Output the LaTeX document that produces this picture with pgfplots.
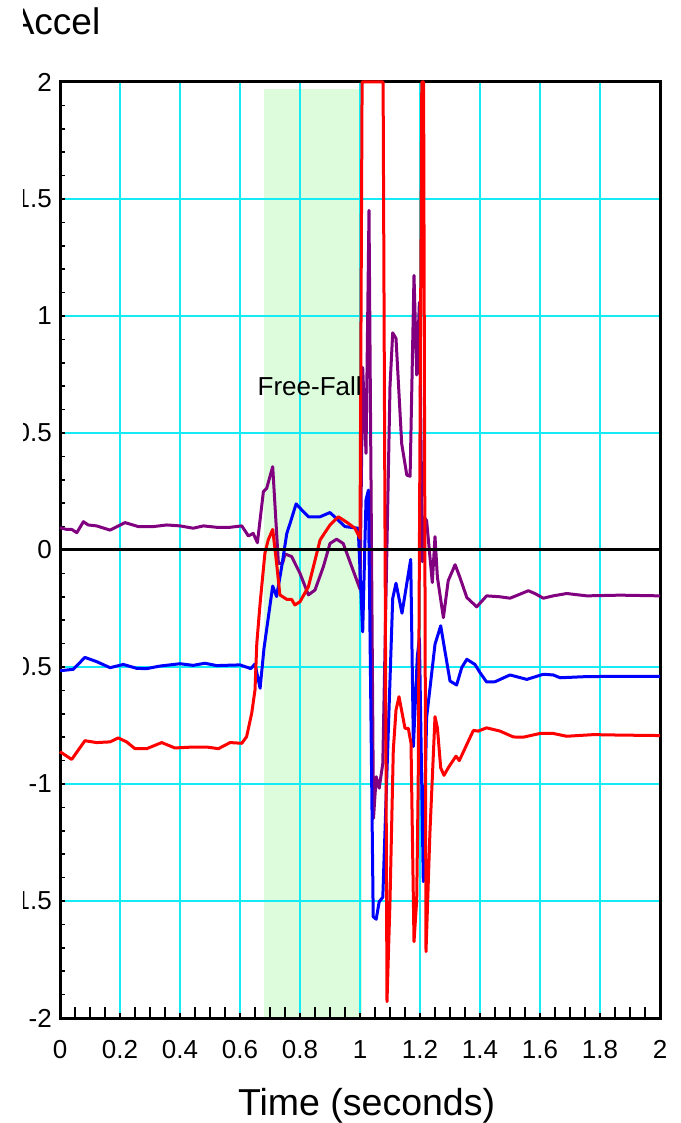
\documentclass[border=0pt]{standalone}
\usepackage{fontspec}
\setmainfont{Liberation Sans}
\usepackage{pgfplots}
\pgfplotsset{compat=1.18}
\definecolor{gridcyan}{RGB}{20,235,245}
\definecolor{ffgreen}{RGB}{220,252,220}
\definecolor{cpurple}{RGB}{128,0,128}
\begin{document}
\begin{tikzpicture}
\begin{axis}[
  set layers=standard,
  at={(0pt,0pt)}, anchor=south west,
  scale only axis, width=600pt, height=936pt,
  xmin=0, xmax=2, ymin=-2, ymax=2,
  clip=false,
  xtick={0,0.2,0.4,0.6,0.8,1,1.2,1.4,1.6,1.8,2},
  xticklabels={0,0.2,0.4,0.6,0.8,1,1.2,1.4,1.6,1.8,2},
  ytick={-2,-1.5,-1,-0.5,0,0.5,1,1.5,2},
  yticklabels={-2,-1.5,-1,-0.5,0,0.5,1,1.5,2},
  minor y tick num=4,
  extra x ticks={0.05,0.1,0.15,0.25,0.3,0.35,0.45,0.5,0.55,0.65,0.7,0.75,0.85,0.9,0.95,1.05,1.1,1.15,1.25,1.3,1.35,1.45,1.5,1.55,1.65,1.7,1.75,1.85,1.9,1.95},
  extra x tick labels={},
  extra x tick style={grid=none, major tick length=11pt, xtick pos=bottom},
  xtick pos=bottom, ytick pos=left,
  tick align=inside,
  major tick length=4.5pt, minor tick length=4.5pt,
  tick style={black, line width=1.5pt},
  grid=major,
  major grid style={gridcyan, line width=2pt},
  axis line style={black, line width=3pt},
  every tick label/.append style={font=\fontsize{26}{26}\selectfont},
  xticklabel style={anchor=north, inner sep=0pt, yshift=-22pt},
  yticklabel style={anchor=east, inner sep=0pt, xshift=-8pt},
  every axis plot/.append style={line join=round},
]
% free-fall band
\addplot[fill=ffgreen, draw=none, on layer=axis background] coordinates {(0.68,-2) (0.68,1.97) (1.006,1.97) (1.006,-2)} -- cycle;

% purple
\addplot[cpurple, line width=3pt] coordinates {
(0,0.095)(0.022,0.088)(0.039,0.088)(0.056,0.074)(0.078,0.121)(0.094,0.107)(0.122,0.103)(0.167,0.085)(0.217,0.117)(0.261,0.1)(0.311,0.1)(0.356,0.107)(0.4,0.103)(0.444,0.093)(0.478,0.103)(0.522,0.097)(0.567,0.097)(0.606,0.103)
(0.628,0.06)(0.644,0.071)(0.658,0.031)(0.678,0.25)(0.689,0.264)(0.709,0.356)(0.728,-0.057)(0.742,-0.057)(0.75,-0.017)(0.772,-0.028)(0.8,-0.1)(0.828,-0.192)(0.85,-0.171)(0.878,-0.071)(0.9,0.028)(0.922,0.046)(0.944,0.028)(1.0,-0.167)
(1.009,0.78)(1.02,0.413)(1.03,1.451)(1.045,-1.147)(1.054,-0.969)(1.064,-1.018)(1.076,-0.912)(1.1,0.70)(1.109,0.928)(1.12,0.904)(1.139,0.454)(1.156,0.32)(1.167,0.315)(1.18,1.173)(1.189,0.748)(1.198,1.059)
(1.208,-0.05)(1.214,0.14)(1.222,0.126)(1.241,-0.139)(1.25,0.057)(1.258,-0.117)(1.278,-0.289)(1.294,-0.131)(1.317,-0.063)(1.333,-0.117)(1.356,-0.203)(1.389,-0.243)(1.422,-0.196)(1.467,-0.2)(1.5,-0.206)(1.533,-0.189)(1.561,-0.174)(1.583,-0.186)(1.611,-0.206)(1.644,-0.196)(1.689,-0.186)(1.756,-0.196)(1.867,-0.193)(2.0,-0.196)
};

% blue
\addplot[blue, line width=3pt] coordinates {
(0,-0.516)(0.044,-0.51)(0.083,-0.459)(0.122,-0.477)(0.167,-0.503)(0.211,-0.489)(0.256,-0.506)(0.289,-0.507)(0.333,-0.496)(0.4,-0.486)(0.444,-0.493)(0.483,-0.484)(0.522,-0.494)(0.6,-0.491)(0.636,-0.507)(0.65,-0.487)(0.667,-0.591)(0.68,-0.42)(0.709,-0.154)(0.722,-0.199)(0.739,-0.071)(0.756,0.071)(0.767,0.114)(0.787,0.197)(0.806,0.171)(0.828,0.142)(0.867,0.142)(0.9,0.16)(0.95,0.1)(0.994,0.093)
(1.009,-0.35)(1.02,0.214)(1.028,0.256)(1.044,-1.567)(1.054,-1.578)(1.064,-1.503)(1.076,-1.484)(1.109,-0.207)(1.12,-0.142)(1.14,-0.27)(1.169,-0.04)(1.178,-0.84)(1.191,-0.456)(1.198,-0.377)(1.211,-1.417)(1.222,-0.717)(1.25,-0.403)(1.269,-0.324)(1.283,-0.431)(1.3,-0.56)(1.322,-0.577)(1.339,-0.503)(1.356,-0.467)(1.383,-0.489)(1.4,-0.524)(1.422,-0.564)(1.45,-0.563)(1.5,-0.534)(1.556,-0.553)(1.611,-0.531)(1.644,-0.534)(1.667,-0.546)(1.756,-0.541)(1.867,-0.54)(2.0,-0.54)
};

% red
\addplot[red, line width=3pt] coordinates {
(0,-0.862)(0.039,-0.895)(0.061,-0.855)(0.083,-0.815)(0.122,-0.823)(0.167,-0.82)(0.194,-0.803)(0.222,-0.82)(0.25,-0.849)(0.289,-0.849)(0.339,-0.823)(0.383,-0.846)(0.444,-0.842)(0.489,-0.842)(0.528,-0.849)(0.567,-0.823)(0.606,-0.826)(0.622,-0.798)(0.639,-0.698)(0.65,-0.598)(0.656,-0.399)(0.667,-0.228)(0.683,-0.014)(0.694,0.043)(0.709,0.088)(0.722,-0.057)(0.733,-0.192)(0.756,-0.211)(0.772,-0.211)(0.783,-0.235)(0.8,-0.221)(0.828,-0.157)(0.867,0.043)(0.9,0.107)(0.928,0.142)(0.961,0.114)(0.983,0.093)(1.0,0.05)
(1.007,2)(1.077,2)(1.09,-1.93)(1.1,-1.5)(1.111,-0.855)(1.12,-0.684)(1.13,-0.627)(1.15,-0.762)(1.161,-0.762)(1.17,-0.826)(1.18,-1.674)(1.189,-1.496)(1.194,-1.0)(1.206,2)(1.212,2)(1.22,-1.716)(1.233,-1.21)(1.25,-0.712)(1.258,-0.76)(1.269,-0.931)(1.28,-0.963)(1.294,-0.931)(1.32,-0.881)(1.331,-0.9)(1.356,-0.831)(1.378,-0.771)(1.394,-0.774)(1.422,-0.76)(1.467,-0.774)(1.511,-0.799)(1.544,-0.8)(1.6,-0.784)(1.644,-0.784)(1.689,-0.796)(1.778,-0.789)(1.867,-0.791)(2.0,-0.793)
};

% zero line
\addplot[black, line width=3pt] coordinates {(0,0)(2,0)};

\node[anchor=base west, font=\fontsize{26}{26}\selectfont] at (axis cs:0.647,0.662) {Free-Fall};
\node[anchor=base east, font=\fontsize{37}{37}\selectfont] at (axis cs:0.146,2.201) {Accel};
\node[anchor=base, font=\fontsize{37.5}{37.5}\selectfont] at (axis cs:1.022,-2.418) {Time (seconds)};

\begin{pgfonlayer}{axis foreground}
\fill[white] (axis cs:-0.25,-2.6) rectangle (axis cs:-0.1233,2.4);
\end{pgfonlayer}
\end{axis}
\pgfresetboundingbox
\useasboundingbox (-60pt,-105pt) rectangle (620pt,1018pt);
\end{tikzpicture}
\end{document}
